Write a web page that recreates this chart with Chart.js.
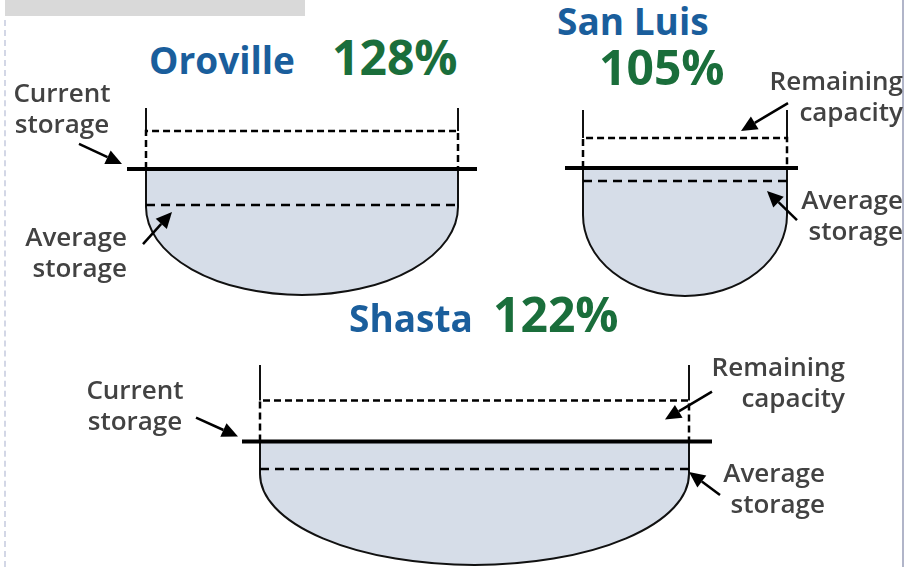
<!DOCTYPE html>
<html>
<head>
<meta charset="utf-8">
<script src="https://cdn.jsdelivr.net/npm/chart.js@4.4.1/dist/chart.umd.min.js"></script>
<style>
  body { margin: 0; background: #fff; }
  #page { position: relative; width: 918px; height: 567px; overflow: hidden; font-family: "Open Sans", sans-serif; }
  #page canvas { position: absolute; }
  .topbar { position: absolute; left: 5px; top: 0; width: 300px; height: 16px; background: #d9d9d9; }
  .leftrule { position: absolute; left: 4px; top: 20px; height: 547px; border-left: 2px dashed #d3d7e6; }
  .rightrule { position: absolute; left: 902px; top: 0; width: 2px; height: 567px; background: #b1b5c9; }
  .name { position: absolute; color: #1a5e9c; font-weight: 700; font-size: 37px; line-height: 37px; white-space: nowrap; }
  .pct { position: absolute; color: #1a6e3b; font-weight: 700; font-size: 48px; line-height: 48px; white-space: nowrap; }
  .lbl { position: absolute; color: #424242; font-weight: 600; font-size: 26px; line-height: 31px; white-space: nowrap; }
</style>
</head>
<body>
<div id="page">
  <div class="topbar"></div>
  <div class="leftrule"></div>
  <div class="rightrule"></div>

  <canvas id="res0"></canvas>
  <canvas id="res1"></canvas>
  <canvas id="res2"></canvas>

  <div class="name" id="name0" style="left:149px;top:41px"></div>
  <div class="pct" id="pct0" style="left:332px;top:33px"></div>
  <div class="name" id="name1" style="left:557px;top:2px"></div>
  <div class="pct" id="pct1" style="left:599px;top:43px"></div>
  <div class="name" id="name2" style="left:349px;top:299px"></div>
  <div class="pct" id="pct2" style="left:493px;top:290px"></div>

  <div class="lbl" style="left:0px;width:124px;text-align:center;top:77px">Current<br>storage</div>
  <div class="lbl" style="right:791px;text-align:right;top:221px">Average<br>storage</div>
  <div class="lbl" style="right:15px;text-align:right;top:65px">Remaining<br>capacity</div>
  <div class="lbl" style="right:15px;text-align:right;top:184px">Average<br>storage</div>
  <div class="lbl" style="left:73px;width:124px;text-align:center;top:374px">Current<br>storage</div>
  <div class="lbl" style="right:73px;text-align:right;top:351px">Remaining<br>capacity</div>
  <div class="lbl" style="right:93px;text-align:right;top:457px">Average<br>storage</div>
</div>

<script>
// reservoir data (levels are % of the drawn basin depth, 0 = bottom, 100 = top of walls)
const reservoirs = ['Oroville', 'San Luis', 'Shasta'];
const pctOfAverage = [128, 105, 122];
const capacityLevel = [87.7, 84.9, 82.2];
const currentLevel = [67.4, 68.8, 61.7];
const averageLevel = [48.1, 61.8, 48.0];

// drawing layout, page pixels
const layout = [
  { left: 0, top: 90, width: 490, height: 215, wallL: 146, wallR: 458, wallTop: 108, bottom: 295, curve: 47, ovL: 19, ovR: 19,
    arrows: [
      { level: 'current', tipX: 122, tipDy: -5, dx: -43, dy: -20 },
      { level: 'average', tipX: 172, tipDy: 7, dx: -29, dy: 32 }
    ] },
  { left: 540, top: 90, width: 270, height: 215, wallL: 583, wallR: 787, wallTop: 110, bottom: 296, curve: 43.5, ovL: 18, ovR: 11,
    arrows: [
      { level: 'capacity', tipX: 741, tipDy: -7, dx: 47, dy: -28 },
      { level: 'average', tipX: 767, tipDy: 10, dx: 30, dy: 29 }
    ] },
  { left: 170, top: 350, width: 580, height: 217, wallL: 260, wallR: 689, wallTop: 365, bottom: 565, curve: 45.5, ovL: 18, ovR: 23,
    arrows: [
      { level: 'current', tipX: 238, tipDy: -5, dx: -42, dy: -19 },
      { level: 'capacity', tipX: 665, tipDy: 19, dx: 47, dy: -28 },
      { level: 'average', tipX: 689, tipDy: 3, dx: 31, dy: 23 }
    ] }
];

// basin outline + water fill drawn through the chart scales
const basinPlugin = {
  id: 'basin',
  beforeDatasetsDraw(chart, args, opts) {
    const i = opts.index;
    const L = layout[i];
    const xs = chart.scales.x, ys = chart.scales.y;
    const x0 = xs.getPixelForValue(0), x1 = xs.getPixelForValue(100);
    const yTop = ys.getPixelForValue(100);
    const yCap = ys.getPixelForValue(capacityLevel[i]);
    const yCur = ys.getPixelForValue(currentLevel[i]);
    const yCurve = ys.getPixelForValue(L.curve);
    const yBot = ys.getPixelForValue(0);
    const cx = (x0 + x1) / 2, rx = (x1 - x0) / 2, ry = yBot - yCurve;
    const ctx = chart.ctx;
    ctx.save();
    // water
    ctx.beginPath();
    ctx.moveTo(x0, yCur);
    ctx.lineTo(x0, yCurve);
    ctx.ellipse(cx, yCurve, rx, ry, 0, Math.PI, 0, true);
    ctx.lineTo(x1, yCur);
    ctx.closePath();
    ctx.fillStyle = '#d6dde8';
    ctx.fill();
    // walls
    ctx.strokeStyle = '#111';
    ctx.lineWidth = 2;
    ctx.beginPath();
    ctx.moveTo(x0, yTop); ctx.lineTo(x0, yCap);
    ctx.moveTo(x1, yTop); ctx.lineTo(x1, yCap);
    ctx.stroke();
    ctx.beginPath();
    ctx.moveTo(x0, yCur);
    ctx.lineTo(x0, yCurve);
    ctx.ellipse(cx, yCurve, rx, ry, 0, Math.PI, 0, true);
    ctx.lineTo(x1, yCur);
    ctx.stroke();
    ctx.restore();
  },
  afterDatasetsDraw(chart, args, opts) {
    const i = opts.index;
    const L = layout[i];
    const ys = chart.scales.y;
    const levels = { current: currentLevel[i], average: averageLevel[i], capacity: capacityLevel[i] };
    const ctx = chart.ctx;
    ctx.save();
    ctx.strokeStyle = '#000';
    ctx.fillStyle = '#000';
    ctx.lineWidth = 2.5;
    L.arrows.forEach(a => {
      const tx = a.tipX - L.left;
      const ty = ys.getPixelForValue(levels[a.level]) + a.tipDy;
      const sx = tx + a.dx, sy = ty + a.dy;
      const ang = Math.atan2(ty - sy, tx - sx);
      const head = 16, half = 7.5;
      const bx = tx - head * Math.cos(ang), by = ty - head * Math.sin(ang);
      ctx.beginPath();
      ctx.moveTo(sx, sy);
      ctx.lineTo(bx, by);
      ctx.stroke();
      ctx.beginPath();
      ctx.moveTo(tx, ty);
      ctx.lineTo(bx + half * Math.sin(ang), by - half * Math.cos(ang));
      ctx.lineTo(bx - half * Math.sin(ang), by + half * Math.cos(ang));
      ctx.closePath();
      ctx.fill();
    });
    ctx.restore();
  }
};

function drawReservoir(i) {
  const L = layout[i];
  const canvas = document.getElementById('res' + i);
  canvas.width = L.width;
  canvas.height = L.height;
  canvas.style.left = L.left + 'px';
  canvas.style.top = L.top + 'px';
  canvas.style.width = L.width + 'px';
  canvas.style.height = L.height + 'px';

  document.getElementById('name' + i).textContent = reservoirs[i];
  document.getElementById('pct' + i).textContent = pctOfAverage[i] + '%';

  const span = L.wallR - L.wallL;
  const ovL = L.ovL / span * 100, ovR = L.ovR / span * 100;
  const cap = capacityLevel[i], cur = currentLevel[i], avg = averageLevel[i];

  new Chart(canvas.getContext('2d'), {
    type: 'line',
    data: {
      datasets: [
        {
          label: 'Remaining capacity',
          data: [{ x: 0, y: cur }, { x: 0, y: cap }, { x: 100, y: cap }, { x: 100, y: cur }],
          borderColor: '#000', borderWidth: 2.5, borderDash: [7, 4]
        },
        {
          label: 'Average storage',
          data: [{ x: 0, y: avg }, { x: 100, y: avg }],
          borderColor: '#000', borderWidth: 2.5, borderDash: [9, 6]
        },
        {
          label: 'Current storage',
          data: [{ x: -ovL, y: cur }, { x: 100 + ovR, y: cur }],
          borderColor: '#000', borderWidth: 4
        }
      ]
    },
    options: {
      responsive: false,
      animation: false,
      devicePixelRatio: 1,
      events: [],
      layout: {
        padding: {
          left: L.wallL - L.left,
          right: L.left + L.width - L.wallR,
          top: L.wallTop - L.top,
          bottom: L.top + L.height - L.bottom
        }
      },
      elements: { point: { radius: 0 }, line: { tension: 0, fill: false, borderCapStyle: 'butt' } },
      datasets: { line: { clip: false } },
      scales: {
        x: { type: 'linear', min: 0, max: 100, display: false },
        y: { type: 'linear', min: 0, max: 100, display: false }
      },
      plugins: {
        legend: { display: false },
        tooltip: { enabled: false },
        basin: { index: i }
      }
    },
    plugins: [basinPlugin]
  });
}

reservoirs.forEach((r, i) => drawReservoir(i));
</script>
</body>
</html>
